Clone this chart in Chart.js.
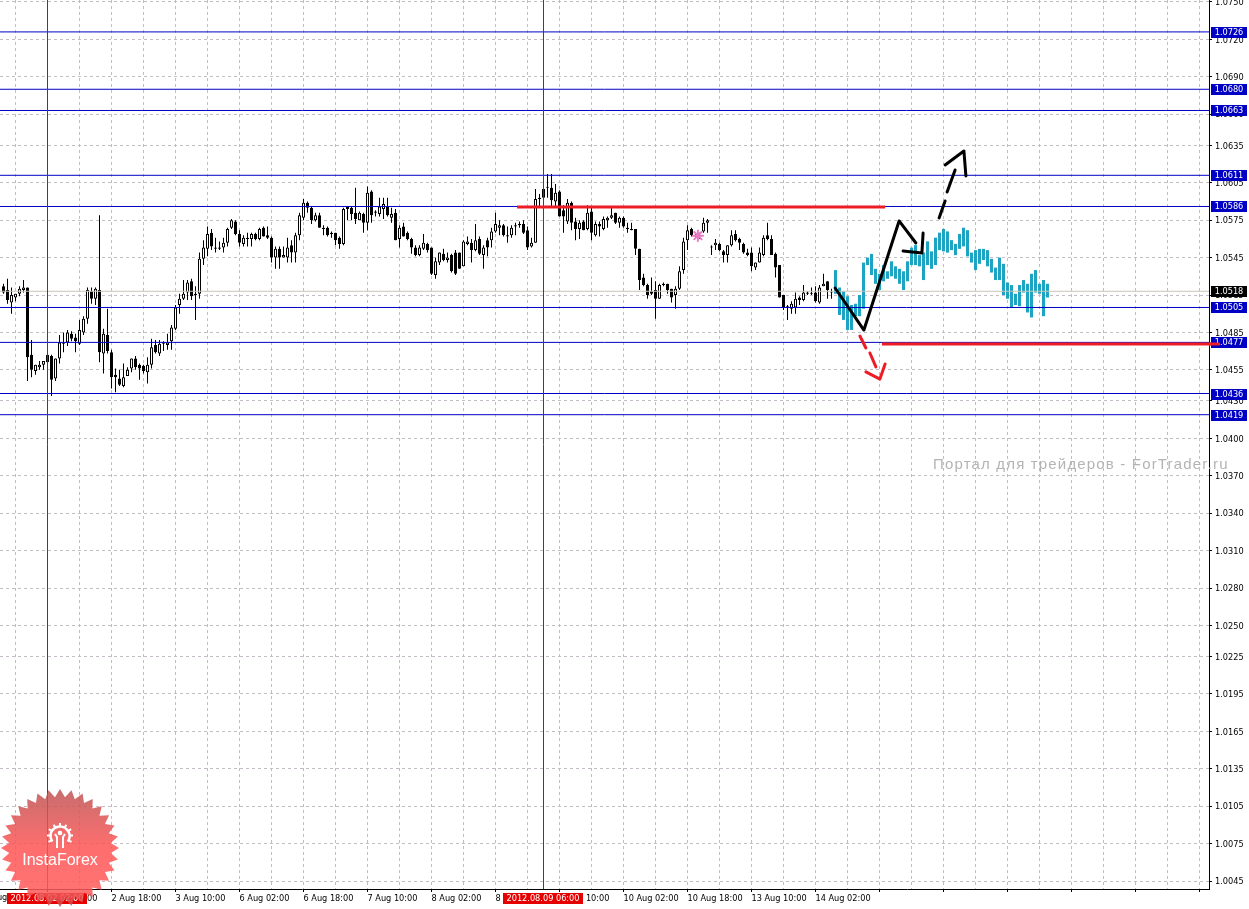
<!DOCTYPE html>
<html>
<head>
<meta charset="utf-8">
<title>Chart</title>
<script src="https://cdn.jsdelivr.net/npm/chart.js@4"></script>
<style>
  html, body { margin: 0; padding: 0; background: #fff; overflow: hidden; }
  canvas { display: block; }
</style>
</head>
<body>
<canvas id="chart" width="1249" height="909"></canvas>
<script>
'use strict';

// hourly candles
const opens = [
  1.0522,1.0519,1.0509,1.0513,1.0516,1.0519,1.0521,1.0467,1.0454,1.0457,
  1.0459,1.0467,1.0466,1.0448,1.0464,1.0477,1.0477,1.0484,1.0481,1.0476,
  1.0485,1.0496,1.0518,1.0512,1.0519,1.0468,1.0483,1.0469,1.0451,1.0448,
  1.0442,1.0450,1.0456,1.0464,1.0459,1.0458,1.0453,1.0459,1.0475,1.0468,
  1.0477,1.0475,1.0478,1.0488,1.0507,1.0512,1.0517,1.0526,1.0516,1.0516,
  1.0544,1.0552,1.0565,1.0553,1.0552,1.0553,1.0557,1.0569,1.0574,1.0564,
  1.0556,1.0560,1.0560,1.0564,1.0560,1.0569,1.0563,1.0561,1.0545,1.0552,
  1.0545,1.0545,1.0555,1.0549,1.0563,1.0577,1.0589,1.0585,1.0575,1.0579,
  1.0569,1.0569,1.0565,1.0565,1.0561,1.0556,1.0586,1.0585,1.0581,1.0575,
  1.0580,1.0573,1.0598,1.0582,1.0580,1.0584,1.0586,1.0577,1.0581,1.0560,
  1.0570,1.0565,1.0560,1.0553,1.0547,1.0552,1.0556,1.0553,1.0531,1.0541,
  1.0548,1.0543,1.0547,1.0549,1.0549,1.0538,1.0556,1.0557,1.0551,1.0560,
  1.0547,1.0559,1.0559,1.0566,1.0569,1.0571,1.0563,1.0563,1.0570,1.0571,
  1.0572,1.0567,1.0554,1.0557,1.0592,1.0600,1.0601,1.0601,1.0590,1.0598,
  1.0583,1.0574,1.0589,1.0574,1.0568,1.0574,1.0568,1.0582,1.0563,1.0572,
  1.0568,1.0575,1.0577,1.0581,1.0573,1.0577,1.0569,1.0568,1.0568,1.0552,
  1.0529,1.0523,1.0518,1.0519,1.0512,1.0523,1.0524,1.0520,1.0515,1.0520,
  1.0535,1.0559,1.0568,1.0563,1.0563,1.0566,1.0573,1.0553,1.0555,1.0556,
  1.0550,1.0547,1.0555,1.0564,1.0560,1.0556,1.0549,1.0549,1.0537,1.0541,
  1.0547,1.0563,1.0560,1.0548,1.0539,1.0515,1.0506,1.0504,1.0505,1.0513,
  1.0511,1.0516,1.0516,1.0517,1.0509,1.0522,1.0526,1.0517
];
const highs = [
  1.0524,1.0528,1.0521,1.0516,1.0522,1.0527,1.0521,1.0479,1.0459,1.0462,
  1.0462,1.0467,1.0467,1.0464,1.0483,1.0485,1.0487,1.0486,1.0484,1.0495,
  1.0498,1.0521,1.0521,1.0521,1.0579,1.0488,1.0504,1.0471,1.0456,1.0455,
  1.0460,1.0457,1.0464,1.0466,1.0460,1.0459,1.0465,1.0480,1.0479,1.0479,
  1.0478,1.0484,1.0491,1.0507,1.0516,1.0527,1.0527,1.0528,1.0522,1.0549,
  1.0559,1.0570,1.0568,1.0561,1.0558,1.0561,1.0569,1.0576,1.0575,1.0567,
  1.0563,1.0565,1.0565,1.0565,1.0569,1.0570,1.0570,1.0562,1.0554,1.0554,
  1.0554,1.0561,1.0559,1.0565,1.0581,1.0592,1.0590,1.0586,1.0581,1.0581,
  1.0571,1.0570,1.0566,1.0565,1.0562,1.0585,1.0586,1.0586,1.0601,1.0582,
  1.0581,1.0602,1.0599,1.0583,1.0593,1.0593,1.0593,1.0585,1.0584,1.0571,
  1.0573,1.0566,1.0561,1.0555,1.0555,1.0564,1.0557,1.0553,1.0545,1.0549,
  1.0552,1.0549,1.0548,1.0551,1.0549,1.0559,1.0562,1.0560,1.0572,1.0562,
  1.0555,1.0561,1.0569,1.0581,1.0575,1.0572,1.0570,1.0571,1.0573,1.0574,
  1.0575,1.0570,1.0561,1.0600,1.0596,1.0600,1.0612,1.0612,1.0604,1.0599,
  1.0587,1.0592,1.0590,1.0577,1.0575,1.0575,1.0587,1.0585,1.0574,1.0574,
  1.0578,1.0578,1.0585,1.0581,1.0578,1.0578,1.0573,1.0573,1.0568,1.0552,
  1.0532,1.0524,1.0529,1.0526,1.0524,1.0525,1.0524,1.0520,1.0522,1.0538,
  1.0561,1.0571,1.0569,1.0565,1.0565,1.0577,1.0576,1.0555,1.0560,1.0557,
  1.0551,1.0555,1.0567,1.0567,1.0561,1.0557,1.0552,1.0553,1.0541,1.0553,
  1.0563,1.0573,1.0563,1.0549,1.0539,1.0515,1.0507,1.0510,1.0517,1.0514,
  1.0523,1.0518,1.0521,1.0522,1.0523,1.0532,1.0526,1.0520
];
const lows = [
  1.0516,1.0508,1.0500,1.0510,1.0514,1.0517,1.0446,1.0449,1.0451,1.0455,
  1.0455,1.0461,1.0434,1.0446,1.0460,1.0469,1.0474,1.0478,1.0469,1.0475,
  1.0483,1.0492,1.0508,1.0507,1.0461,1.0452,1.0468,1.0440,1.0437,1.0442,
  1.0441,1.0450,1.0453,1.0455,1.0447,1.0452,1.0444,1.0456,1.0468,1.0466,
  1.0470,1.0471,1.0471,1.0487,1.0500,1.0511,1.0511,1.0511,1.0495,1.0512,
  1.0539,1.0546,1.0551,1.0549,1.0551,1.0549,1.0554,1.0568,1.0563,1.0554,
  1.0554,1.0554,1.0554,1.0559,1.0559,1.0562,1.0560,1.0541,1.0536,1.0536,
  1.0545,1.0541,1.0541,1.0541,1.0559,1.0575,1.0581,1.0572,1.0574,1.0569,
  1.0563,1.0562,1.0561,1.0555,1.0552,1.0555,1.0575,1.0575,1.0572,1.0575,
  1.0565,1.0567,1.0573,1.0578,1.0578,1.0576,1.0578,1.0573,1.0559,1.0553,
  1.0562,1.0559,1.0548,1.0546,1.0546,1.0551,1.0549,1.0531,1.0528,1.0539,
  1.0542,1.0541,1.0533,1.0531,1.0536,1.0538,1.0555,1.0541,1.0550,1.0547,
  1.0536,1.0546,1.0553,1.0565,1.0563,1.0562,1.0557,1.0561,1.0563,1.0569,
  1.0564,1.0551,1.0553,1.0557,1.0586,1.0591,1.0593,1.0585,1.0586,1.0578,
  1.0565,1.0572,1.0567,1.0559,1.0560,1.0567,1.0567,1.0559,1.0562,1.0562,
  1.0567,1.0569,1.0576,1.0572,1.0569,1.0569,1.0565,1.0567,1.0547,1.0519,
  1.0522,1.0512,1.0515,1.0496,1.0512,1.0522,1.0516,1.0509,1.0504,1.0519,
  1.0532,1.0551,1.0562,1.0561,1.0560,1.0565,1.0565,1.0547,1.0551,1.0550,
  1.0541,1.0541,1.0554,1.0558,1.0551,1.0548,1.0546,1.0534,1.0535,1.0541,
  1.0546,1.0559,1.0547,1.0529,1.0513,1.0503,1.0495,1.0500,1.0500,1.0507,
  1.0510,1.0515,1.0515,1.0509,1.0508,1.0522,1.0512,1.0512
];
const closes = [
  1.0517,1.0511,1.0515,1.0516,1.0520,1.0521,1.0465,1.0455,1.0459,1.0459,
  1.0462,1.0461,1.0447,1.0464,1.0477,1.0476,1.0485,1.0480,1.0478,1.0487,
  1.0496,1.0519,1.0512,1.0520,1.0469,1.0484,1.0470,1.0449,1.0449,1.0443,
  1.0449,1.0455,1.0464,1.0457,1.0456,1.0454,1.0459,1.0473,1.0469,1.0476,
  1.0476,1.0477,1.0489,1.0505,1.0512,1.0516,1.0525,1.0514,1.0515,1.0544,
  1.0553,1.0564,1.0554,1.0552,1.0553,1.0557,1.0568,1.0575,1.0564,1.0557,
  1.0561,1.0561,1.0564,1.0560,1.0568,1.0562,1.0561,1.0545,1.0552,1.0545,
  1.0547,1.0553,1.0549,1.0563,1.0579,1.0589,1.0585,1.0575,1.0579,1.0569,
  1.0568,1.0563,1.0564,1.0559,1.0556,1.0584,1.0584,1.0580,1.0576,1.0581,
  1.0573,1.0597,1.0579,1.0581,1.0586,1.0588,1.0579,1.0580,1.0559,1.0569,
  1.0562,1.0560,1.0553,1.0547,1.0553,1.0557,1.0551,1.0532,1.0542,1.0549,
  1.0543,1.0545,1.0534,1.0532,1.0536,1.0558,1.0558,1.0551,1.0559,1.0548,
  1.0553,1.0553,1.0566,1.0572,1.0571,1.0563,1.0562,1.0569,1.0571,1.0572,
  1.0565,1.0553,1.0557,1.0592,1.0593,1.0593,1.0601,1.0591,1.0597,1.0578,
  1.0578,1.0589,1.0573,1.0568,1.0573,1.0567,1.0581,1.0565,1.0572,1.0570,
  1.0576,1.0577,1.0579,1.0573,1.0577,1.0570,1.0568,1.0567,1.0552,1.0527,
  1.0523,1.0515,1.0516,1.0512,1.0523,1.0524,1.0519,1.0513,1.0520,1.0534,
  1.0558,1.0567,1.0563,1.0562,1.0562,1.0573,1.0575,1.0553,1.0557,1.0551,
  1.0547,1.0555,1.0563,1.0559,1.0557,1.0549,1.0547,1.0538,1.0541,1.0549,
  1.0561,1.0560,1.0547,1.0537,1.0513,1.0505,1.0505,1.0508,1.0512,1.0511,
  1.0517,1.0517,1.0516,1.0510,1.0521,1.0524,1.0519,1.0517
];

// the teal forecast blocks that follow the candles
const forecastTop = [
  1.0535,1.0521,1.0518,1.0514,1.0507,1.0508,1.0515,1.0541,1.0545,1.0548,
  1.0536,1.0532,1.0539,1.0534,1.0542,1.0538,1.0536,1.0534,1.0542,1.0553,
  1.0555,1.0547,1.0549,1.0558,1.0550,1.0561,1.0565,1.0568,1.0566,1.0559,
  1.0556,1.0564,1.0569,1.0567,1.0549,1.0551,1.0552,1.0552,1.0551,1.0544,
  1.0537,1.0545,1.0540,1.0525,1.0523,1.0516,1.0523,1.0527,1.0524,1.0532,
  1.0535,1.0524,1.0527,1.0524
];
const forecastBottom = [
  1.0516,1.0499,1.0495,1.0487,1.0487,1.0498,1.0498,1.0504,1.0539,1.0531,
  1.0524,1.0519,1.0526,1.0528,1.0530,1.0528,1.0524,1.0519,1.0526,1.0539,
  1.0539,1.0538,1.0527,1.0539,1.0536,1.0539,1.0551,1.0550,1.0549,1.0551,
  1.0547,1.0552,1.0554,1.0546,1.0541,1.0535,1.0540,1.0543,1.0538,1.0533,
  1.0527,1.0527,1.0515,1.0512,1.0505,1.0507,1.0506,1.0517,1.0501,1.0497,
  1.0517,1.0516,1.0498,1.0513
];
const forecastFirstBar = 208;

// axis labels
const yTickValues = [
  1.0750,1.0720,1.0690,1.0660,1.0635,1.0605,1.0575,1.0545,1.0515,1.0485,1.0455,
  1.0430,1.0400,1.0370,1.0340,1.0310,1.0280,1.0250,1.0225,1.0195,1.0165,1.0135,
  1.0105,1.0075,1.0045
];
const timeLabels = [
  '2 Aug 02:00','2 Aug 18:00','3 Aug 10:00','6 Aug 02:00','6 Aug 18:00','7 Aug 10:00',
  '8 Aug 02:00','8 Aug 18:00','9 Aug 10:00','10 Aug 02:00','10 Aug 18:00','13 Aug 10:00',
  '14 Aug 02:00'
];
const firstLabelBar = 11;
const labelStep = 16;
const hiddenLeftLabel = '1 Aug 10:00';

// price levels with their tags on the right
const levels = [1.0726,1.0680,1.0663,1.0611,1.0586,1.0505,1.0477,1.0436,1.0419];
const bidPrice = 1.0518;

// cross hairs
const crossBars = [11, 135];
const crossLabels = ['2012.08.02 02:00', '2012.08.09 06:00'];

// hand drawn levels and arrows, bar number / price. null breaks the line
const redLevelA = { x: [128.4, 220.4], y: [1.05856, 1.05856] };
const redLevelB = { x: [219.6, 304.1], y: [1.04757, 1.04757] };
const blackPathX = [207.9,215.1,223.9,228.1,null,224.9,229.6,229.9,null,233.9,235.4,null,235.9,237.9,null,235.4,240.1,240.6];
const blackPathY = [1.05206,1.04869,1.05744,1.05567,null,1.05503,1.05487,1.05647,null,1.05768,1.05904,null,1.05976,1.06153,null,1.06193,1.06305,1.06105];
const redPathX = [214.1,215.6,null,216.6,218.1,null,215.6,219.1,220.4];
const redPathY = [1.04821,1.04725,null,1.04685,1.04573,null,1.04533,1.04476,1.04597];
const pinkMark = { x: 173.6, y: 1.05626 };

const axisFont = { family: 'DejaVu Sans', size: 8.2 };
const gridColor = '#c4bcc4';
const blue = '#0000c4';

function pairs(xs, ys) {
  return xs.map((x, i) => ({ x: x, y: ys[i] }));
}

const barNumbers = opens.map((v, i) => i);
const wicks = barNumbers.map(i => ({ x: i, y: [lows[i], highs[i]] }));
const bodies = barNumbers.map(i => ({ x: i, y: [opens[i], closes[i]] }));
const bodyFill = bodies.map((b, i) => closes[i] >= opens[i] ? '#ffffff' : '#000000');
const forecast = forecastTop.map((v, i) => ({ x: forecastFirstBar + i, y: [forecastBottom[i], v] }));

const xMin = -0.875, xMax = 301.375;

const datasets = [];
function addLine(data, color, width, extra) {
  datasets.push(Object.assign({
    type: 'line', data: data, borderColor: color, borderWidth: width,
    pointRadius: 0, fill: false, tension: 0, spanGaps: false, clip: false,
    borderCapStyle: 'round', borderJoinStyle: 'round'
  }, extra || {}));
}

// first in the list ends up on top
addLine([pinkMark], '#e77cc4', 2, { pointRadius: 6, pointStyle: 'star', pointBorderColor: '#e77cc4', pointBorderWidth: 2, showLine: false });
addLine(pairs(blackPathX, blackPathY), '#000000', 3);
addLine(pairs(redPathX, redPathY), '#ee1c25', 3);
addLine(pairs(redLevelA.x, redLevelA.y), '#ee1c25', 3, { borderCapStyle: 'butt' });
addLine(pairs(redLevelB.x, redLevelB.y), '#ee1c25', 3, { borderCapStyle: 'butt' });
crossBars.forEach(b => addLine([{ x: b, y: 1.00386 }, { x: b, y: 1.07516 }], '#e00000', 1, { borderCapStyle: 'butt', clip: true }));
levels.forEach(l => addLine([{ x: xMin, y: l }, { x: xMax, y: l }], blue, 1, { borderCapStyle: 'butt', clip: true }));
addLine([{ x: xMin, y: bidPrice }, { x: xMax, y: bidPrice }], '#c8c4b4', 1, { borderCapStyle: 'butt', clip: true });

datasets.push({ type: 'bar', data: forecast, backgroundColor: '#1ca4c2', barThickness: 3, grouped: false, borderWidth: 0, inflateAmount: 0, minBarLength: 1 });
datasets.push({ type: 'bar', data: bodies, backgroundColor: bodyFill, borderColor: '#000000', borderWidth: 1, borderSkipped: false, barThickness: 3, grouped: false, inflateAmount: 0, minBarLength: 1 });
datasets.push({ type: 'bar', data: wicks, backgroundColor: '#000000', barThickness: 1, grouped: false, borderWidth: 0, inflateAmount: 0 });

function drawTag(ctx, x, y, w, h, fill, text) {
  ctx.fillStyle = fill;
  ctx.fillRect(x, y, w, h);
  ctx.fillStyle = '#ffffff';
  ctx.textAlign = 'center';
  ctx.textBaseline = 'middle';
  ctx.fillText(text, x + w / 2, y + h / 2 + 0.5);
}

function drawLogo(ctx) {
  const cx = 60, cy = 848, spikes = 32;
  ctx.save();
  ctx.beginPath();
  for (let i = 0; i < spikes * 2; i++) {
    const r = i % 2 ? 51 : 59;
    const a = Math.PI * i / spikes - Math.PI / 2;
    ctx.lineTo(cx + r * Math.cos(a), cy + r * Math.sin(a));
  }
  ctx.closePath();
  const g = ctx.createLinearGradient(0, cy - 60, 0, cy + 60);
  g.addColorStop(0, 'rgba(188,84,84,0.85)');
  g.addColorStop(0.5, 'rgba(255,84,84,0.85)');
  g.addColorStop(0.85, 'rgba(255,90,90,0.85)');
  g.addColorStop(1, 'rgba(196,70,70,0.85)');
  ctx.fillStyle = g;
  ctx.fill();

  // gear
  const gx = 60, gy = 836;
  ctx.strokeStyle = '#ffffff';
  ctx.fillStyle = '#ffffff';
  ctx.lineWidth = 2.5;
  ctx.beginPath();
  ctx.arc(gx, gy, 9.5, Math.PI * 0.8, Math.PI * 2.2);
  ctx.stroke();
  ctx.lineWidth = 2;
  for (let i = 0; i < 9; i++) {
    const a = Math.PI * 0.85 + i * Math.PI * 1.3 / 8;
    ctx.beginPath();
    ctx.moveTo(gx + 10 * Math.cos(a), gy + 10 * Math.sin(a));
    ctx.lineTo(gx + 13 * Math.cos(a), gy + 13 * Math.sin(a));
    ctx.stroke();
  }
  ctx.beginPath();
  ctx.arc(gx, gy - 3, 2.3, 0, Math.PI * 2);
  ctx.fill();
  ctx.lineWidth = 2;
  ctx.beginPath();
  ctx.moveTo(gx - 5, gy - 2);
  ctx.lineTo(gx - 3, gy + 1);
  ctx.lineTo(gx - 3, gy + 12);
  ctx.moveTo(gx + 5, gy - 2);
  ctx.lineTo(gx + 3, gy + 1);
  ctx.lineTo(gx + 3, gy + 12);
  ctx.stroke();

  ctx.font = '16px "Liberation Sans"';
  ctx.textAlign = 'center';
  ctx.textBaseline = 'middle';
  ctx.fillText('InstaForex', 60, 861);
  ctx.restore();
}

const overlayPlugin = {
  id: 'overlay',
  afterDraw(chart) {
    const ctx = chart.ctx;
    const xs = chart.scales.x, ys = chart.scales.y;
    ctx.save();
    ctx.font = axisFont.size + 'px "' + axisFont.family + '"';

    // the label that is cut by the left edge
    ctx.fillStyle = '#000000';
    ctx.textAlign = 'left';
    ctx.textBaseline = 'middle';
    ctx.fillText(hiddenLeftLabel, xs.getPixelForValue(firstLabelBar - labelStep), 898);

    levels.forEach(l => {
      const y = Math.round(ys.getPixelForValue(l));
      drawTag(ctx, 1211, y - 5, 36, 11, blue, l.toFixed(4));
    });
    const by = Math.round(ys.getPixelForValue(bidPrice));
    drawTag(ctx, 1211, by - 5, 36, 11, '#000000', bidPrice.toFixed(4));

    crossBars.forEach((b, i) => {
      const x = Math.floor(xs.getPixelForValue(b));
      drawTag(ctx, x - 40, 893, 80, 11, '#e60000', crossLabels[i]);
    });

    // second red level runs over its tag
    ctx.strokeStyle = '#ee1c25';
    ctx.lineWidth = 3;
    ctx.beginPath();
    ctx.moveTo(1209, ys.getPixelForValue(redLevelB.y[1]));
    ctx.lineTo(xs.getPixelForValue(redLevelB.x[1]), ys.getPixelForValue(redLevelB.y[1]));
    ctx.stroke();

    ctx.font = '15px "Liberation Sans"';
    ctx.letterSpacing = '1.17px';
    ctx.fillStyle = '#b4b4b4';
    ctx.textAlign = 'left';
    ctx.textBaseline = 'middle';
    ctx.fillText('Портал для трейдеров - ForTrader.ru', 933, 465);
    ctx.letterSpacing = '0px';

    drawLogo(ctx);
    ctx.restore();
  }
};

new Chart(document.getElementById('chart').getContext('2d'), {
  data: { datasets: datasets },
  plugins: [overlayPlugin],
  options: {
    responsive: false,
    animation: false,
    devicePixelRatio: 1,
    layout: { padding: 0, autoPadding: false },
    plugins: { legend: { display: false }, tooltip: { enabled: false } },
    scales: {
      x: {
        type: 'linear',
        position: 'bottom',
        bounds: 'data',
        offset: false,
        min: xMin,
        max: xMax,
        afterBuildTicks(scale) {
          const t = [];
          for (let b = 3; b <= 300; b += 8) t.push({ value: b });
          scale.ticks = t;
        },
        afterFit(scale) {
          scale.height = 20;
          scale.paddingLeft = scale.paddingRight = 0;
        },
        border: { color: '#000000', width: 1, dash: [3, 3] },
        grid: {
          offset: false,
          color: gridColor,
          lineWidth: 1,
          tickLength: 3,
          tickColor: c => c.tick && (c.tick.value - firstLabelBar) % labelStep === 0 ? '#000000' : 'rgba(0,0,0,0)'
        },
        ticks: {
          autoSkip: false,
          maxRotation: 0,
          minRotation: 0,
          align: 'start',
          padding: 2,
          color: '#000000',
          font: axisFont,
          callback(value) {
            const n = (value - firstLabelBar) / labelStep;
            return Number.isInteger(n) && timeLabels[n] ? timeLabels[n] : '';
          }
        }
      },
      y: {
        type: 'linear',
        position: 'right',
        bounds: 'data',
        min: 1.00386,
        max: 1.07516,
        afterBuildTicks(scale) {
          scale.ticks = yTickValues.map(v => ({ value: v }));
        },
        afterFit(scale) {
          scale.width = 40;
          scale.paddingTop = scale.paddingBottom = 0;
        },
        border: { color: '#000000', width: 1, dash: [3, 3] },
        grid: { color: gridColor, lineWidth: 1, tickLength: 3, tickColor: '#000000' },
        ticks: {
          autoSkip: false,
          padding: 3,
          labelOffset: 1,
          color: '#000000',
          font: axisFont,
          callback: value => value.toFixed(4)
        }
      }
    }
  }
});
</script>
</body>
</html>
